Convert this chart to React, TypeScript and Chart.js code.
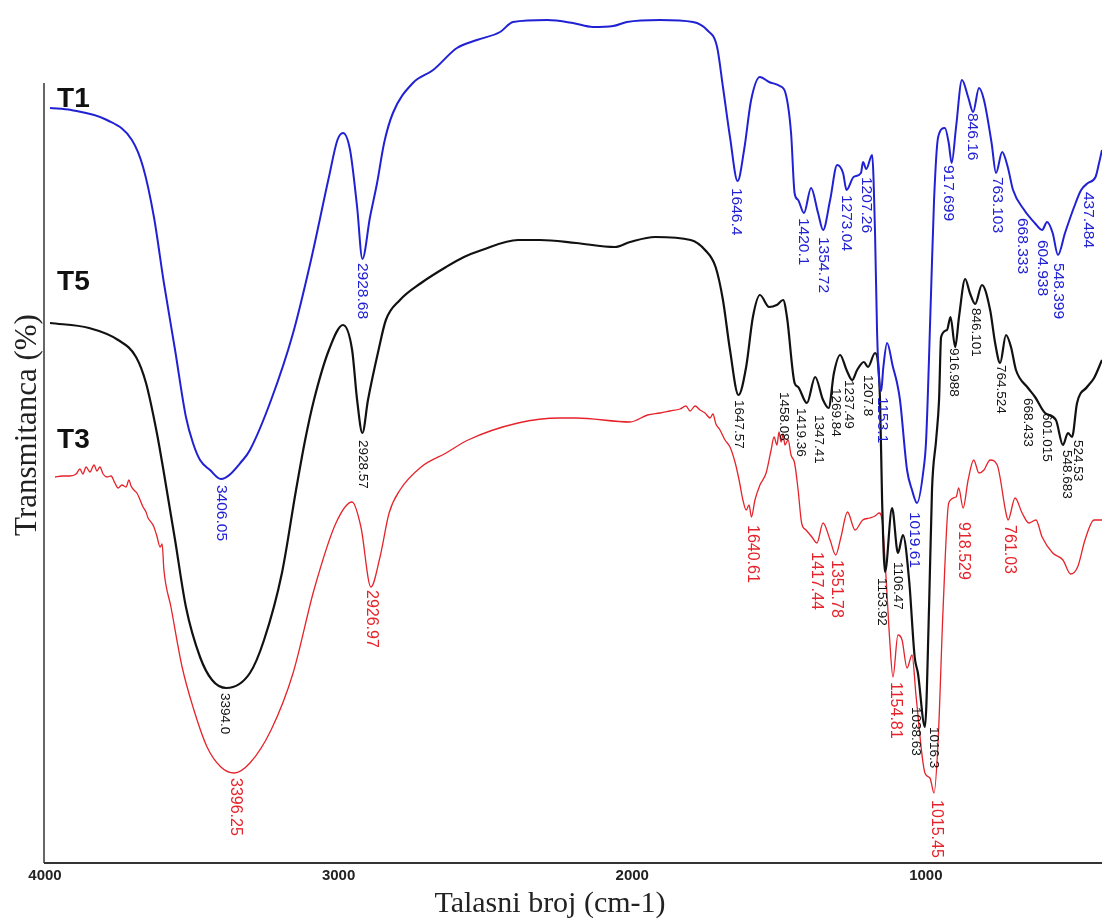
import React, { useEffect, useRef } from "react";
import { Chart, registerables } from "chart.js";

Chart.register(...registerables);

// ---------- DATA ----------
const xTicks = [4000, 3000, 2000, 1000];
const seriesNames = ["T1", "T5", "T3"];
const seriesColors = ["#2121d4", "#111111", "#e5232a"];

// T1 (blue)
const t1X = [3983, 3911, 3789, 3704, 3666, 3629, 3595, 3557, 3520, 3496, 3472, 3438, 3401, 3326, 3302, 3230, 3155, 3094, 3033, 3004, 2985, 2961, 2937, 2919, 2893, 2869, 2845, 2815, 2747, 2678, 2597, 2529, 2450, 2406, 2290, 2202, 2134, 2065, 2018, 1905, 1793, 1745, 1711, 1691, 1667, 1641, 1619, 1595, 1565, 1534, 1497, 1478, 1459, 1447, 1435, 1415, 1391, 1367, 1350, 1326, 1302, 1282, 1270, 1246, 1221, 1214, 1203, 1183, 1173, 1166, 1158, 1152, 1145, 1132, 1112, 1098, 1088, 1064, 1047, 1030, 1008, 999, 983, 972, 958, 935, 922, 912, 897, 877, 856, 839, 819, 802, 776, 761, 740, 721, 703, 665, 629, 604, 587, 568, 550, 526, 495, 471, 448, 422, 410, 400];
const t1Y = [75.5, 75.3, 74.3, 72.3, 69.6, 64.6, 58.0, 51.3, 44.6, 42.0, 40.3, 39.3, 38.4, 40.3, 41.3, 46.3, 53.0, 60.3, 68.6, 72.3, 73.0, 71.3, 65.6, 60.4, 64.6, 68.0, 72.0, 75.0, 78.0, 79.3, 81.5, 82.3, 83.1, 84.1, 84.3, 84.0, 83.6, 83.7, 84.1, 84.3, 84.1, 83.3, 81.6, 77.6, 72.6, 68.2, 71.3, 76.3, 78.6, 78.1, 77.7, 77.0, 73.0, 67.0, 66.3, 65.0, 67.5, 65.0, 63.3, 66.3, 69.8, 69.0, 67.3, 68.6, 69.0, 70.1, 69.4, 70.8, 63.0, 53.0, 48.0, 47.2, 49.5, 52.0, 49.6, 48.0, 46.3, 39.3, 37.3, 36.0, 39.3, 42.3, 56.3, 66.3, 72.6, 73.5, 72.0, 70.0, 73.6, 78.3, 76.6, 75.1, 77.5, 76.3, 72.0, 69.0, 71.1, 69.6, 67.3, 65.3, 64.0, 63.3, 64.1, 63.0, 60.8, 63.0, 65.6, 67.3, 68.0, 68.6, 70.0, 71.3];

// T5 (black)
const t5X = [3983, 3850, 3751, 3690, 3656, 3619, 3595, 3557, 3520, 3472, 3431, 3382, 3302, 3254, 3193, 3145, 3114, 3084, 3033, 2985, 2954, 2937, 2919, 2900, 2864, 2839, 2791, 2719, 2634, 2573, 2512, 2389, 2314, 2191, 2059, 2007, 1922, 1801, 1752, 1716, 1691, 1667, 1638, 1612, 1589, 1565, 1534, 1508, 1486, 1473, 1447, 1435, 1405, 1377, 1350, 1331, 1313, 1292, 1270, 1251, 1234, 1211, 1197, 1173, 1156, 1149, 1139, 1115, 1095, 1078, 1057, 1038, 1027, 1003, 989, 979, 965, 955, 948, 928, 916, 900, 887, 866, 850, 832, 809, 781, 764, 747, 727, 710, 693, 652, 628, 594, 557, 533, 516, 502, 485, 451, 427, 400];
const t5Y = [54.0, 53.5, 52.3, 50.6, 48.0, 43.0, 39.0, 32.3, 25.6, 20.6, 18.3, 17.5, 19.0, 22.3, 29.0, 37.3, 42.3, 46.3, 51.3, 53.8, 51.3, 46.3, 43.0, 46.3, 51.3, 54.3, 56.3, 58.0, 59.6, 60.6, 61.3, 62.3, 62.3, 62.0, 61.6, 62.1, 62.6, 62.3, 61.3, 59.6, 56.3, 51.3, 46.8, 49.6, 54.6, 56.8, 55.6, 55.8, 56.3, 54.6, 48.0, 47.6, 46.0, 48.6, 46.3, 45.5, 49.0, 50.8, 49.3, 48.3, 49.3, 50.1, 49.6, 51.0, 46.3, 36.3, 29.1, 35.5, 31.0, 32.8, 28.3, 20.6, 19.0, 13.6, 25.6, 37.3, 42.3, 46.3, 52.6, 53.3, 54.6, 51.6, 54.6, 58.4, 57.0, 55.9, 57.8, 55.3, 52.0, 50.0, 52.8, 51.6, 49.3, 47.5, 46.6, 45.0, 44.3, 41.8, 43.0, 42.6, 46.0, 47.6, 48.5, 50.3];

// T3 (red)
const t3X = [3966, 3942, 3915, 3894, 3881, 3871, 3860, 3847, 3833, 3823, 3813, 3802, 3789, 3775, 3762, 3751, 3738, 3724, 3714, 3707, 3697, 3687, 3676, 3666, 3656, 3649, 3639, 3629, 3619, 3608, 3601, 3595, 3571, 3533, 3496, 3448, 3401, 3356, 3302, 3230, 3155, 3084, 3009, 2954, 2924, 2890, 2859, 2828, 2791, 2719, 2634, 2559, 2389, 2246, 2191, 2007, 1948, 1905, 1871, 1837, 1817, 1803, 1786, 1769, 1752, 1735, 1725, 1715, 1701, 1684, 1667, 1650, 1636, 1623, 1612, 1602, 1594, 1582, 1565, 1544, 1527, 1517, 1507, 1500, 1493, 1486, 1480, 1469, 1459, 1447, 1435, 1423, 1408, 1388, 1371, 1350, 1326, 1307, 1289, 1267, 1241, 1215, 1190, 1173, 1159, 1149, 1135, 1123, 1112, 1095, 1081, 1064, 1047, 1033, 1003, 986, 972, 958, 941, 922, 897, 888, 873, 856, 837, 819, 802, 781, 757, 727, 720, 696, 672, 649, 625, 604, 568, 533, 507, 483, 458, 427, 400];
const t3Y = [38.6, 38.7, 38.7, 38.9, 39.4, 38.9, 39.6, 39.1, 39.8, 39.2, 39.6, 38.9, 38.6, 38.7, 38.0, 37.5, 37.8, 37.6, 38.3, 37.7, 37.3, 37.0, 36.3, 35.6, 35.1, 34.5, 34.1, 33.6, 32.7, 31.6, 31.9, 29.3, 25.6, 19.6, 15.6, 11.6, 9.6, 9.0, 10.0, 13.3, 19.0, 27.3, 34.0, 36.1, 33.6, 27.6, 30.6, 35.0, 37.3, 39.6, 41.0, 42.3, 44.0, 44.5, 44.5, 44.1, 44.8, 45.0, 45.2, 45.4, 45.7, 45.2, 45.7, 45.3, 45.0, 44.5, 44.9, 43.9, 43.3, 42.3, 41.6, 40.1, 38.3, 36.3, 35.3, 35.8, 34.6, 36.3, 37.8, 39.0, 41.3, 42.6, 41.8, 43.1, 42.1, 42.9, 41.8, 42.3, 40.8, 40.0, 37.3, 34.0, 33.3, 32.6, 32.0, 34.0, 32.3, 30.8, 32.6, 35.1, 33.3, 34.3, 34.5, 34.7, 35.0, 34.3, 28.3, 22.3, 18.6, 22.8, 22.3, 19.5, 20.8, 16.6, 9.0, 8.5, 7.0, 12.3, 25.6, 36.0, 36.6, 37.5, 35.5, 38.3, 40.3, 39.0, 39.3, 40.3, 39.8, 35.0, 34.3, 36.5, 35.0, 34.0, 34.3, 32.6, 31.0, 30.3, 28.9, 29.6, 32.3, 34.3, 34.3];

// Series name positions (wavenumber, transmittance)
const nameX = [3959, 3959, 3959];
const nameY = [75.6, 57.3, 41.5];

// Peak labels: text, anchor wavenumber, anchor transmittance
const t1PeakText = ["3406.05", "2928.68", "1646.4", "1420.1", "1354.72", "1273.04", "1207.26", "1153.1", "1019.61", "917.699", "846.16", "763.103", "668.333", "604.938", "548.399", "437.484"];
const t1PeakX = [3401, 2920, 1646, 1417, 1350, 1270, 1204, 1150, 1039, 922, 843, 757, 672, 604, 550, 448];
const t1PeakY = [37.8, 60.0, 67.5, 64.5, 62.6, 66.8, 68.6, 46.6, 35.1, 69.8, 75.0, 68.6, 64.5, 62.3, 60.0, 67.1];

const t5PeakText = ["3394.0", "2928.57", "1647.57", "1458.08", "1419.36", "1347.41", "1269.84", "1237.49", "1207.8", "1153.92", "1106.47", "1038.63", "1016.3", "916.988", "846.101", "764.524", "668.433", "601.015", "548.683", "524.53"];
const t5PeakX = [3387, 2919, 1636, 1483, 1425, 1364, 1306, 1262, 1197, 1149, 1095, 1033, 972, 904, 831, 745, 654, 587, 519, 482];
const t5PeakY = [17.0, 42.3, 46.3, 47.1, 45.5, 44.8, 47.5, 48.3, 48.8, 28.5, 30.1, 15.6, 13.6, 51.5, 55.5, 49.8, 46.5, 45.0, 41.3, 42.3];

const t3PeakText = ["3396.25", "2926.97", "1640.61", "1417.44", "1351.78", "1154.81", "1015.45", "918.529", "761.03"];
const t3PeakX = [3353, 2890, 1592, 1374, 1306, 1103, 965, 871, 715];
const t3PeakY = [8.5, 27.3, 33.8, 31.1, 30.3, 18.1, 6.3, 34.1, 33.8];

const yAxisLineTop = 78.0;

// ---------- CHART ----------
function pts(xs: number[], ys: number[]) {
  return xs.map((x, i) => ({ x, y: ys[i] }));
}

const peakSets = [
  { text: t1PeakText, xs: t1PeakX, ys: t1PeakY, color: seriesColors[0], font: "15.5px 'Liberation Sans', Arial, sans-serif" },
  { text: t5PeakText, xs: t5PeakX, ys: t5PeakY, color: seriesColors[1], font: "13.5px 'Liberation Sans', Arial, sans-serif" },
  { text: t3PeakText, xs: t3PeakX, ys: t3PeakY, color: seriesColors[2], font: "16px 'Liberation Sans', Arial, sans-serif" },
];

const annotatePlugin = {
  id: "annotatePlugin",
  afterDatasetsDraw(chart: any) {
    const { ctx, chartArea, scales } = chart;
    const xs = scales.x;
    const ys = scales.y;
    ctx.save();
    // vertical axis line
    ctx.strokeStyle = "#333";
    ctx.lineWidth = 1.5;
    ctx.beginPath();
    ctx.moveTo(chartArea.left - 1, ys.getPixelForValue(yAxisLineTop));
    ctx.lineTo(chartArea.left - 1, chartArea.bottom);
    ctx.stroke();

    // series names
    ctx.fillStyle = "#111";
    ctx.font = "bold 28px 'Liberation Sans', Arial, sans-serif";
    ctx.textAlign = "left";
    ctx.textBaseline = "alphabetic";
    seriesNames.forEach((n, i) => {
      ctx.fillText(n, xs.getPixelForValue(nameX[i]), ys.getPixelForValue(nameY[i]));
    });

    // peak labels
    peakSets.forEach((s) => {
      ctx.fillStyle = s.color;
      ctx.font = s.font;
      s.text.forEach((t, i) => {
        const px = xs.getPixelForValue(s.xs[i]);
        const py = ys.getPixelForValue(s.ys[i]);
        ctx.save();
        ctx.translate(px, py);
        ctx.rotate(Math.PI / 2);
        ctx.textAlign = "left";
        ctx.textBaseline = "middle";
        ctx.fillText(t, 0, 0);
        ctx.restore();
      });
    });

    // axis titles
    ctx.fillStyle = "#222";
    ctx.font = "30px 'Liberation Serif', 'Times New Roman', serif";
    ctx.textAlign = "center";
    ctx.textBaseline = "middle";
    ctx.fillText("Talasni broj (cm-1)", 550, 904);
    ctx.save();
    ctx.translate(28, 425);
    ctx.rotate(-Math.PI / 2);
    ctx.font = "31px 'Liberation Serif', 'Times New Roman', serif";
    ctx.fillText("Transmitanca (%)", 0, 0);
    ctx.restore();
    ctx.restore();
  },
};

export default function App() {
  const ref = useRef<HTMLCanvasElement | null>(null);
  useEffect(() => {
    if (!ref.current) return;
    const chart = new Chart(ref.current, {
      type: "line",
      data: {
        datasets: [
          { label: seriesNames[0], data: pts(t1X, t1Y), borderColor: seriesColors[0], borderWidth: 2, pointRadius: 0, cubicInterpolationMode: "monotone" },
          { label: seriesNames[1], data: pts(t5X, t5Y), borderColor: seriesColors[1], borderWidth: 2.2, pointRadius: 0, cubicInterpolationMode: "monotone" },
          { label: seriesNames[2], data: pts(t3X, t3Y), borderColor: seriesColors[2], borderWidth: 1.3, pointRadius: 0, cubicInterpolationMode: "monotone" },
        ] as any,
      },
      options: {
        animation: false,
        responsive: true,
        maintainAspectRatio: false,
        layout: { padding: { left: 45, right: 0, top: 3, bottom: 33 } },
        plugins: { legend: { display: false }, tooltip: { enabled: false } },
        scales: {
          x: {
            type: "linear",
            reverse: true,
            min: 400,
            max: 4000,
            grid: { display: false, drawTicks: false },
            border: { display: true, color: "#333", width: 2 },
            afterBuildTicks: (axis: any) => {
              axis.ticks = xTicks.map((v) => ({ value: v }));
            },
            afterFit: (axis: any) => {
              axis.height = 24;
            },
            ticks: {
              autoSkip: false,
              maxRotation: 0,
              padding: 4,
              color: "#222",
              font: { family: "'Liberation Sans', Arial, sans-serif", size: 15, weight: "bold" },
              callback: (v: any) => String(v),
            },
          },
          y: {
            display: false,
            min: 0,
            max: 86,
          },
        },
      } as any,
      plugins: [annotatePlugin],
    });
    return () => chart.destroy();
  }, []);
  return (
    <div style={{ position: "fixed", left: 0, top: 0, width: 1102, height: 920, background: "#fff" }}>
      <canvas ref={ref} />
    </div>
  );
}
